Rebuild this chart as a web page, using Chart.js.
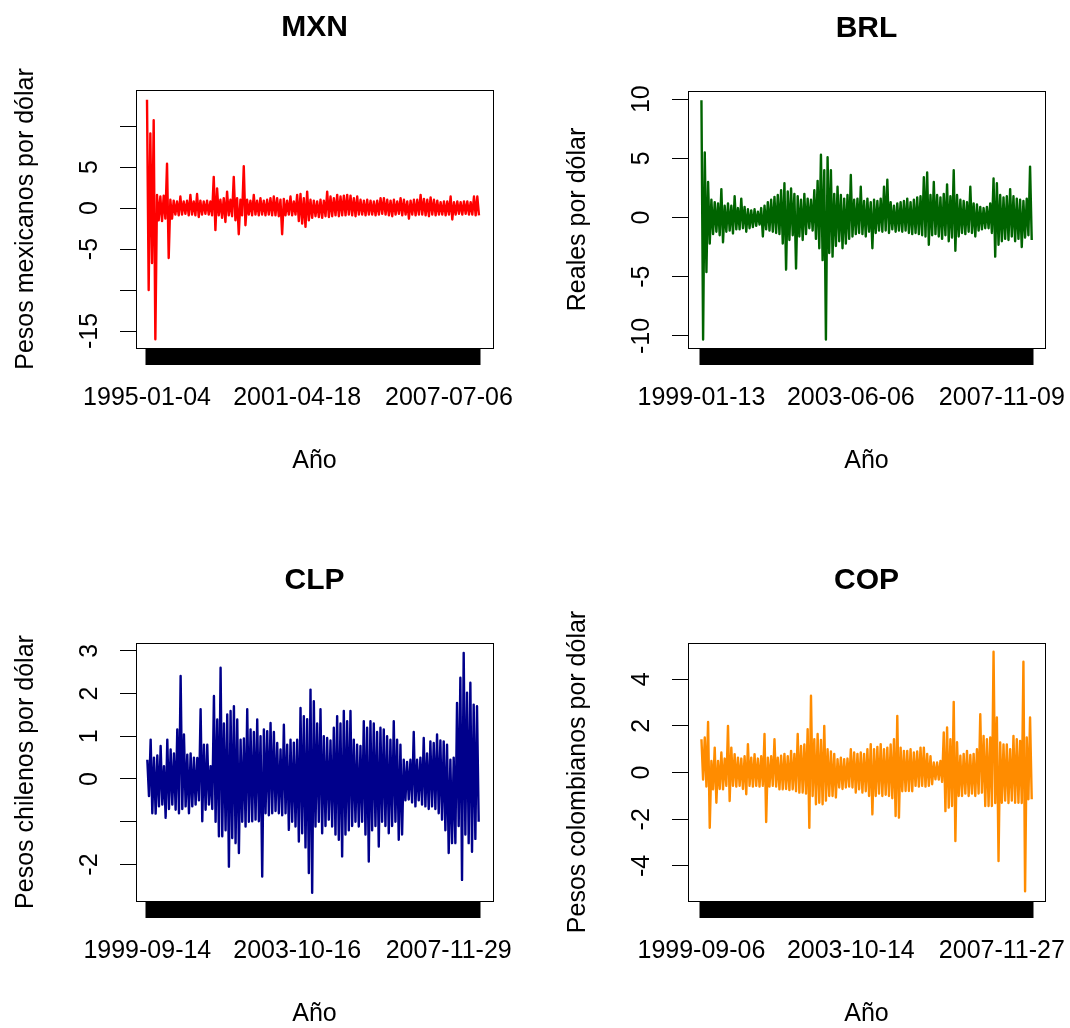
<!DOCTYPE html>
<html>
<head>
<meta charset="utf-8">
<script src="https://cdn.jsdelivr.net/npm/chart.js@4.4.0/dist/chart.umd.min.js"></script>
<style>
  html, body { margin: 0; padding: 0; background: #fff; overflow: hidden; }
  #wrap { position: relative; width: 1070px; height: 1028px; }
  #wrap canvas { position: absolute; left: 0; top: 0; }
</style>
</head>
<body>
<div id="wrap">
  <canvas id="c-mxn" width="1070" height="1028"></canvas>
  <canvas id="c-brl" width="1070" height="1028"></canvas>
  <canvas id="c-clp" width="1070" height="1028"></canvas>
  <canvas id="c-cop" width="1070" height="1028"></canvas>
</div>
<script>
const mxnHi = [13.2, 9.1, 10.7, 1.6, 1.4, 1.5, 5.4, 1.0, 0.9, 0.8,
  1.4, 0.8, 0.9, 1.6, 0.8, 1.7, 0.9, 0.8, 0.9, 0.8,
  3.8, 2.4, 1.0, 1.2, 2.0, 1.0, 3.8, 1.2, 1.0, 5.1,
  1.0, 0.9, 1.6, 0.9, 1.2, 0.9, 1.0, 1.2, 1.4, 1.2,
  1.0, 1.1, 0.9, 1.4, 0.8, 1.6, 1.7, 1.2, 2.0, 1.0,
  0.9, 0.8, 1.0, 0.9, 2.0, 1.4, 1.2, 1.6, 1.4, 1.5,
  1.6, 1.5, 1.2, 1.4, 1.0, 0.9, 1.0, 0.9, 0.8, 0.9,
  1.2, 1.2, 1.0, 0.9, 1.0, 0.8, 1.2, 1.0, 0.8, 0.9,
  1.0, 1.0, 1.6, 1.1, 1.0, 1.3, 1.0, 0.9, 0.7, 0.8,
  0.8, 1.4, 0.7, 0.8, 0.7, 0.8, 0.8, 0.7, 1.4, 1.4]
const mxnLo = [-10.0, -6.7, -16.0, -1.5, -1.6, -1.3, -6.1, -1.3, -0.8, -0.9,
  -0.8, -0.7, -0.9, -0.8, -0.9, -1.1, -0.8, -0.7, -0.8, -0.9,
  -2.7, -0.9, -1.2, -1.7, -0.9, -1.0, -1.5, -3.2, -0.9, -2.1,
  -0.8, -0.9, -0.8, -0.9, -0.8, -0.9, -0.8, -0.9, -0.9, -1.0,
  -3.2, -0.9, -0.8, -0.9, -0.8, -1.6, -1.9, -2.3, -1.5, -1.2,
  -1.0, -1.1, -1.2, -1.0, -1.1, -1.0, -0.9, -1.0, -0.9, -0.9,
  -0.8, -0.9, -1.0, -0.8, -0.8, -0.9, -0.8, -0.8, -0.9, -0.8,
  -0.7, -0.8, -0.9, -1.0, -0.8, -0.7, -0.9, -0.8, -1.3, -0.8,
  -0.9, -0.8, -0.8, -0.9, -1.0, -0.8, -0.9, -0.8, -0.8, -0.9,
  -0.8, -1.4, -0.8, -0.7, -0.8, -0.7, -0.8, -0.8, -0.9, -0.9]

const brlHi = [9.9, 5.5, 3.0, 1.5, 1.3, 1.2, 2.4, 1.0, 1.2, 1.0,
  1.8, 0.8, 1.6, 0.9, 0.7, 0.6, 0.7, 0.5, 0.8, 1.0,
  1.3, 1.5, 1.75, 1.9, 2.3, 2.9, 2.2, 2.45, 2.0, 1.8,
  1.5, 2.0, 1.6, 1.5, 2.3, 3.1, 5.3, 4.0, 5.1, 4.0,
  2.0, 2.6, 1.9, 1.6, 1.9, 3.6, 1.5, 1.6, 2.6, 1.4,
  1.6, 1.3, 1.5, 1.4, 1.6, 2.6, 3.2, 1.3, 1.0, 1.2,
  1.3, 1.4, 1.6, 1.3, 1.5, 1.7, 1.8, 3.4, 3.8, 1.9,
  3.0, 1.9, 1.7, 2.0, 2.8, 1.8, 4.0, 1.9, 1.5, 1.4,
  1.3, 2.6, 1.2, 1.1, 0.9, 0.8, 0.9, 1.2, 3.3, 2.9,
  1.9, 1.7, 1.8, 2.4, 1.8, 1.6, 1.5, 1.4, 1.6, 4.3]
const brlLo = [-10.3, -4.6, -2.2, -1.4, -1.2, -1.5, -2.1, -1.2, -1.1, -1.35,
  -1.0, -1.0, -0.9, -1.2, -0.9, -0.8, -0.7, -0.6, -1.6, -1.0,
  -1.1, -1.2, -1.3, -1.4, -2.2, -4.4, -1.9, -1.5, -4.3, -1.6,
  -1.9, -1.4, -0.9, -1.1, -1.8, -2.6, -3.6, -10.3, -3.0, -3.3,
  -2.4, -2.0, -2.6, -2.2, -1.8, -1.6, -1.4, -1.3, -1.4, -1.6,
  -1.2, -2.6, -1.3, -1.1, -1.2, -1.1, -1.3, -1.0, -1.2, -1.1,
  -1.2, -1.1, -1.3, -1.4, -1.3, -1.4, -1.5, -1.6, -2.3, -1.5,
  -1.4, -1.6, -1.8, -1.5, -2.0, -1.7, -2.8, -1.6, -1.3, -1.4,
  -1.2, -1.3, -1.6, -1.1, -1.0, -0.9, -0.9, -1.3, -3.3, -2.3,
  -2.0, -1.8, -1.9, -1.6, -2.0, -1.8, -2.5, -1.7, -1.5, -1.9]

const clpHi = [0.45, 0.92, 0.5, 0.55, 0.77, 0.3, 0.92, 0.69, 0.6, 1.16,
  2.41, 1.04, 0.57, 0.6, 0.5, 0.49, 1.63, 0.8, 0.8, 0.3,
  1.94, 1.39, 2.6, 1.3, 1.51, 1.59, 1.7, 1.39, 0.92, 0.95,
  1.63, 1.16, 1.1, 1.39, 1.0, 1.16, 1.12, 1.31, 1.1, 0.84,
  0.69, 1.27, 0.8, 0.92, 0.85, 0.92, 1.66, 1.47, 1.4, 2.09,
  1.82, 1.3, 1.63, 1.0, 0.96, 0.9, 1.2, 1.47, 1.3, 1.59,
  1.35, 1.59, 0.92, 0.8, 0.77, 1.35, 1.2, 1.35, 1.3, 1.1,
  1.2, 1.16, 1.0, 0.92, 1.35, 0.92, 0.8, 0.45, 0.4, 0.45,
  1.1, 0.45, 0.5, 0.96, 0.6, 0.88, 0.84, 1.04, 0.9, 0.88,
  0.8, 0.45, 0.5, 1.78, 2.37, 2.95, 2.02, 2.25, 1.74, 1.7]
const clpLo = [-0.4, -0.8, -0.81, -0.64, -0.6, -0.91, -0.7, -0.6, -0.72, -0.8,
  -0.7, -0.64, -0.8, -0.64, -0.6, -0.5, -0.99, -0.72, -0.6, -0.7,
  -1.0, -1.34, -1.34, -1.2, -2.05, -1.38, -1.5, -1.73, -1.0, -1.11,
  -1.0, -0.99, -0.95, -0.99, -2.28, -0.8, -0.85, -0.8, -0.75, -0.8,
  -0.85, -0.8, -1.19, -1.0, -1.11, -1.46, -1.27, -1.6, -2.2, -2.66,
  -1.11, -1.0, -1.27, -1.1, -0.95, -1.11, -1.3, -1.42, -1.81, -1.3,
  -1.2, -1.1, -1.0, -1.11, -1.0, -1.3, -1.93, -1.2, -1.1, -1.58,
  -1.0, -1.1, -1.27, -1.1, -1.0, -1.42, -1.3, -0.5, -0.48, -0.55,
  -0.64, -0.5, -0.6, -0.64, -0.7, -0.64, -0.7, -0.8, -0.95, -1.2,
  -1.73, -1.5, -1.5, -1.1, -2.36, -1.3, -1.5, -1.7, -1.4, -1.0]

const copHi = [1.43, 1.5, 2.17, 0.5, 1.07, 0.5, 0.86, 0.6, 2.0, 1.07,
  0.79, 0.64, 0.6, 0.7, 1.22, 0.64, 0.79, 0.6, 0.7, 1.65,
  0.64, 0.7, 1.43, 0.64, 0.72, 0.8, 0.7, 0.93, 0.8, 1.65,
  1.14, 1.2, 1.86, 3.29, 1.43, 1.65, 1.4, 2.0, 1.0, 0.9,
  0.8, 0.57, 0.64, 0.57, 0.6, 1.0, 0.86, 0.8, 0.86, 0.8,
  1.0, 1.22, 1.0, 1.1, 1.22, 1.0, 1.07, 1.2, 1.43, 2.43,
  1.07, 0.93, 0.93, 1.0, 0.86, 0.9, 1.07, 1.07, 0.8, 0.7,
  0.43, 0.43, 0.5, 1.72, 1.93, 1.43, 3.03, 1.3, 0.72, 0.8,
  0.93, 0.75, 0.8, 1.0, 2.5, 1.57, 1.43, 1.5, 5.18, 2.36,
  1.29, 1.2, 1.2, 1.0, 1.57, 1.43, 1.36, 4.75, 1.5, 2.36]
const copLo = [-0.3, -0.6, -2.36, -0.72, -1.29, -0.7, -0.72, -0.57, -1.22, -0.57,
  -0.6, -0.57, -0.7, -0.93, -0.57, -0.6, -0.57, -0.6, -0.57, -2.12,
  -0.6, -0.57, -0.6, -0.72, -0.72, -0.7, -0.75, -0.72, -0.8, -0.86,
  -0.86, -0.9, -2.36, -1.0, -1.36, -1.29, -1.36, -1.2, -1.0, -1.0,
  -1.07, -0.64, -0.7, -0.64, -0.6, -0.64, -0.86, -0.72, -0.86, -0.8,
  -1.0, -1.79, -1.0, -0.9, -1.0, -0.95, -1.0, -1.1, -1.86, -1.93,
  -0.8, -0.79, -0.79, -0.8, -0.57, -0.6, -0.57, -0.6, -0.57, -0.5,
  -0.29, -0.3, -0.4, -1.65, -1.5, -1.43, -2.93, -1.0, -1.0, -0.9,
  -1.0, -0.9, -1.0, -0.9, -0.86, -1.43, -1.43, -1.43, -1.3, -3.79,
  -1.29, -1.2, -1.3, -1.2, -1.29, -1.29, -1.3, -5.08, -1.14, -1.14]

// y ticks (blank label = tick R left unlabelled)
const mxnTicks = [-15, -10, -5, 0, 5, 10]
const mxnTickLabels = ['-15', '', '-5', '0', '5', '']
const brlTicks = [-10, -5, 0, 5, 10]
const brlTickLabels = ['-10', '-5', '0', '5', '10']
const clpTicks = [-2, -1, 0, 1, 2, 3]
const clpTickLabels = ['-2', '', '0', '1', '2', '3']
const copTicks = [-4, -2, 0, 2, 4]
const copTickLabels = ['-4', '-2', '0', '2', '4']

// date labels and the observation they sit under
const mxnDates = ['1995-01-04', '2001-04-18', '2007-07-06']
const brlDates = ['1999-01-13', '2003-06-06', '2007-11-09']
const clpDates = ['1999-09-14', '2003-10-16', '2007-11-29']
const copDates = ['1999-09-06', '2003-10-14', '2007-11-27']
const dateAt = [0, 90, 181]

const FONT = '"Liberation Sans", Arial, Helvetica, sans-serif'

function zigzag(hi, lo) {
  const pts = []
  hi.forEach((h, i) => {
    pts.push({x: 2 * i, y: h})
    pts.push({x: 2 * i + 1, y: lo[i]})
  })
  return pts
}

function rotText(ctx, txt, x, y) {
  ctx.save()
  ctx.translate(x, y)
  ctx.rotate(-Math.PI / 2)
  ctx.fillText(txt, 0, 0)
  ctx.restore()
}

function rLook(p) {
  return {
    id: 'rLook',
    afterDraw(chart) {
      const {ctx, chartArea: a, scales: {x, y}} = chart
      ctx.save()
      ctx.strokeStyle = '#000'
      ctx.lineWidth = 1
      ctx.strokeRect(Math.round(a.left) + 0.5, Math.round(a.top) + 0.5,
        Math.round(a.right - a.left), Math.round(a.bottom - a.top))
      ctx.fillStyle = '#000'
      ctx.textAlign = 'center'
      ctx.textBaseline = 'middle'
      const cx = (a.left + a.right) / 2
      ctx.font = 'bold 30px ' + FONT
      ctx.fillText(p.title, cx, a.top - 62)
      ctx.font = '25px ' + FONT
      p.dates.forEach((d, i) => ctx.fillText(d, x.getPixelForValue(dateAt[i]), a.bottom + 50))
      ctx.fillText('Año', cx, a.bottom + 113)
      p.ticks.forEach((v, i) => {
        if (p.tickLabels[i]) rotText(ctx, p.tickLabels[i], a.left - 46, y.getPixelForValue(v))
      })
      rotText(ctx, p.yTitle, a.left - 110, (a.top + a.bottom) / 2)
      ctx.restore()
    }
  }
}

function panel(id, p) {
  const pts = zigzag(p.hi, p.lo)
  return new Chart(document.getElementById(id), {
    type: 'line',
    data: {
      datasets: [{
        data: pts,
        borderColor: p.color,
        borderWidth: 2.4,
        borderJoinStyle: 'round',
        pointRadius: 0,
        tension: 0,
        fill: false
      }]
    },
    options: {
      responsive: false,
      animation: false,
      events: [],
      layout: { padding: p.pad },
      plugins: { legend: { display: false }, tooltip: { enabled: false } },
      scales: {
        x: {
          type: 'linear',
          min: p.xMin,
          max: p.xMax,
          afterBuildTicks: s => { s.ticks = pts.map(q => ({value: q.x})) },
          afterFit: s => { s.height = 20 },
          ticks: { display: false },
          grid: { drawOnChartArea: false, tickLength: 17, tickWidth: 4, tickColor: '#000' },
          border: { color: '#000', width: 1 }
        },
        y: {
          min: p.yMin,
          max: p.yMax,
          afterBuildTicks: s => { s.ticks = p.ticks.map(v => ({value: v})) },
          afterFit: s => { s.width = 20 },
          ticks: { display: false },
          grid: { drawOnChartArea: false, tickLength: 16, tickWidth: 1, tickColor: '#000' },
          border: { color: '#000', width: 1 }
        }
      }
    },
    plugins: [rLook(p)]
  })
}

panel('c-mxn', {
  hi: mxnHi, lo: mxnLo, color: '#ff0000', title: 'MXN', yTitle: 'Pesos mexicanos por dólar',
  ticks: mxnTicks, tickLabels: mxnTickLabels, dates: mxnDates,
  yMin: -17.07, yMax: 14.39, xMin: -6.6, xMax: 207.4,
  pad: {left: 116, top: 90, right: 577, bottom: 660}
})
panel('c-brl', {
  hi: brlHi, lo: brlLo, color: '#006400', title: 'BRL', yTitle: 'Reales por dólar',
  ticks: brlTicks, tickLabels: brlTickLabels, dates: brlDates,
  yMin: -11.02, yMax: 10.69, xMin: -8.1, xMax: 207.0,
  pad: {left: 668, top: 91, right: 25, bottom: 660}
})
panel('c-clp', {
  hi: clpHi, lo: clpLo, color: '#00008b', title: 'CLP', yTitle: 'Pesos chilenos por dólar',
  ticks: clpTicks, tickLabels: clpTickLabels, dates: clpDates,
  yMin: -2.853, yMax: 3.18, xMin: -6.8, xMax: 207.6,
  pad: {left: 116, top: 643, right: 577, bottom: 107}
})
panel('c-cop', {
  hi: copHi, lo: copLo, color: '#ff8c00', title: 'COP', yTitle: 'Pesos colombianos por dólar',
  ticks: copTicks, tickLabels: copTickLabels, dates: copDates,
  yMin: -5.50, yMax: 5.55, xMin: -8.1, xMax: 207.0,
  pad: {left: 668, top: 643, right: 25, bottom: 107}
})
</script>
</body>
</html>
